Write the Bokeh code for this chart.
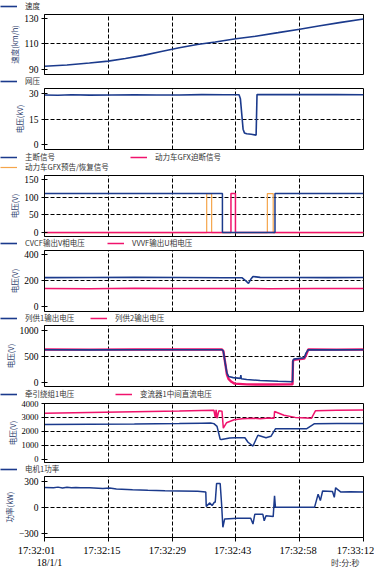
from bokeh.plotting import figure
from bokeh.layouts import column
from bokeh.models import Range1d, FixedTicker, Grid, Legend, LegendItem, ColumnDataSource
from bokeh.core.properties import value
from bokeh.embed import file_html
from bokeh.resources import INLINE

NAN = float("nan")

# ---------------- data ----------------
time_ticks = [0, 14.2, 28.4, 42.6, 56.8, 71]
time_labels = ["17:32:01", "17:32:15", "17:32:29", "17:32:43", "17:32:58", "17:33:12"]
date_label = "18/1/1"
unit_label = "时:分:秒"

speed_t = [0, 5, 10, 14.2, 18, 22, 26, 30, 34, 38, 42.6, 47, 52, 56.8, 61, 66, 71]
speed_v = [92.5, 93.5, 95, 96.5, 98.5, 101, 104, 107, 109.5, 111.5, 114, 116, 118.8, 121.5, 124, 126.8, 129.5]

net_t = [0, 3, 6, 10, 15, 20, 25, 30, 35, 40, 43.3, 43.6, 43.9, 44.2, 44.5, 45.0, 46.0, 47.1, 47.3, 50, 55, 60, 65, 71]
net_v = [29.2, 29.0, 29.3, 29.1, 29.2, 29.3, 29.2, 29.2, 29.4, 29.3, 29.3, 27, 18, 9, 6.8, 6.3, 6.0, 5.5, 29.4, 29.4, 29.4, 29.4, 29.4, 29.3]

main_t = [0, 39.6, 39.6, 51.3, 51.3, 71]
main_v = [110, 110, 0, 0, 110, 110]
gfx_cut_t = [0, 41.5, 41.5, 42.5, 42.5, 71]
gfx_cut_v = [0, 0, 110, 110, 0, 0]
gfx_warn_t = [0, 36.1, 36.1, 37.2, 37.2, 49.6, 49.6, 50.9, 50.9, 71]
gfx_warn_v = [0, 0, 110, 110, 0, 0, 110, 110, 0, 0]

cvcf_t = [0, 10, 20, 30, 40, 44.0, 44.6, 45.4, 46.0, 46.4, 48, 55, 63, 71]
cvcf_v = [223, 224, 226, 224, 222, 222, 205, 180, 215, 232, 225, 224, 223, 224]
vvvf_t = [0, 10, 20, 30, 40, 45, 50, 60, 71]
vvvf_v = [141, 139, 142, 140, 141, 140, 139, 140, 141]

sup1_t = [0, 10, 20, 30, 39.5, 39.8, 40.2, 40.6, 41.0, 42, 43.6, 43.7, 43.8, 45, 48, 52, 55.2, 55.3, 55.5, 57.8, 58.2, 58.7, 65, 71]
sup1_v = [625, 622, 626, 624, 625, 600, 380, 180, 110, 90, 75, 140, 70, 55, 35, 20, 10, 420, 445, 470, 560, 625, 622, 625]
sup2_t = [0, 10, 20, 30, 39.5, 39.8, 40.2, 40.6, 41.0, 41.6, 42.3, 45, 50, 55.2, 55.3, 55.5, 57.8, 58.3, 58.7, 65, 71]
sup2_v = [630, 628, 632, 629, 630, 600, 380, 150, 60, 10, -25, -40, -42, -40, 400, 430, 455, 540, 630, 628, 630]

tw_t = [0, 10, 20, 30, 35, 37.0, 37.7, 38.4, 39.1, 39.4, 41.2, 42.4, 44.6, 45.3, 46.4, 47.5, 49.3, 50.4, 51.4, 58.3, 60.1, 65, 71]
tw_v = [2480, 2500, 2520, 2555, 2580, 2590, 2550, 2355, 1425, 1400, 1520, 1535, 1535, 1210, 935, 1710, 1535, 1640, 2180, 2180, 2550, 2560, 2560]
dc_t = [0, 10, 20, 30, 35, 37.7, 38.0, 38.2, 38.4, 38.8, 39.5, 39.8, 40.5, 42.2, 44, 46.4, 48, 50, 51.1, 51.2, 53.3, 55.8, 59.4, 60.3, 65, 71]
dc_v = [3300, 3350, 3400, 3460, 3500, 3520, 3000, 3550, 2935, 3470, 3450, 2225, 2610, 2825, 2900, 2935, 2900, 2950, 2935, 3425, 3150, 3000, 2935, 3470, 3520, 3535]

pw_t = [0, 2, 3, 4, 5, 6, 7, 8, 10, 13, 14.5, 16, 19.6, 23, 26.8, 30, 34.1, 35.9, 36.0, 36.8, 37.3, 37.8, 38.0, 38.3, 39.1, 39.4, 39.7, 40.1, 43, 45.9, 46.4, 46.8, 48.6, 48.9, 49.3, 50.9, 51.2, 51.4, 60.1, 60.9, 61.4, 61.9, 64.1, 64.5, 64.8, 65.2, 65.9, 68, 71]
pw_v = [232, 230, 236, 226, 234, 228, 233, 230, 229, 221, 225, 215, 206, 200, 195, 192, 187, 180, 11, 52, 22, 60, 60, 277, 277, 50, -232, -135, -127, -127, -195, -82, -82, -157, -97, -108, 135, 0, 0, 154, 79, 191, 185, 116, 229, 210, 180, 182, 180]

# ---------------- style ----------------
NAVY = "#1b3a8c"
PINK = "#f0136c"
ORANGE = "#f5a54a"
W = 374
LEFT = 36
FRAME_W = 327
RIGHT = W - LEFT - FRAME_W
CJK = "Noto Sans CJK SC"
SERIF = "Liberation Serif"
T0, T1 = 0, 71
PX_PER_S = FRAME_W / (T1 - T0)


def strip(h, xr=(0, W)):
    s = figure(width=W, height=h, output_backend="svg", toolbar_location=None, tools="",
               x_range=Range1d(*xr), y_range=Range1d(0, h),
               x_axis_location=None, y_axis_location=None,
               min_border=0, min_border_left=0, min_border_right=0,
               min_border_top=0, min_border_bottom=0)
    s.frame_align = False
    s.grid.visible = False
    s.outline_line_color = None
    s.background_fill_color = "white"
    s.border_fill_color = "white"
    return s


def legend(s, color, text, x, y, width=1.6):
    # key-only renderer (no visible data) that supplies the legend swatch
    r = s.line(x=[NAN, NAN], y=[NAN, NAN], line_color=color, line_width=width)
    lg = Legend(items=[LegendItem(label=text, renderers=[r])], location=(x, y),
                orientation="horizontal", border_line_alpha=0, background_fill_alpha=0,
                padding=0, margin=0, spacing=0, glyph_width=17, glyph_height=10,
                label_height=10, label_standoff=8,
                label_text_font=CJK, label_text_font_size="7.5px", label_text_color="#333333")
    s.add_layout(lg)


def panel(ylabel, yr, yticks, ygrid, frame_h, top=2, bottom=2, bottom_axis=False, tick_size="9.5px"):
    p = figure(width=W, height=top + frame_h + bottom, output_backend="svg",
               toolbar_location=None, tools="",
               x_range=Range1d(T0, T1), y_range=Range1d(*yr),
               x_axis_location="below" if bottom_axis else None,
               min_border_left=LEFT, min_border_right=RIGHT,
               min_border_top=top, min_border_bottom=bottom)
    p.grid.visible = False
    p.outline_line_color = "black"
    p.outline_line_alpha = 1
    p.outline_line_width = 1
    p.background_fill_color = "white"
    p.border_fill_color = "white"
    ya = p.yaxis[0]
    ya.ticker = FixedTicker(ticks=yticks)
    ya.major_label_text_font = SERIF
    ya.major_label_text_font_size = tick_size
    ya.major_label_text_color = "black"
    ya.axis_label = ylabel
    ya.axis_label_text_font = CJK
    ya.axis_label_text_font_size = "7.5px"
    ya.axis_label_text_font_style = "normal"
    ya.axis_label_text_color = "#2a3a6a"
    ya.axis_label_standoff = 1
    ya.major_label_standoff = 3
    ya.major_tick_in = 3
    ya.major_tick_out = 3
    ya.minor_tick_line_color = None
    ya.axis_line_color = "black"
    ya.major_tick_line_color = "black"
    p.add_layout(Grid(dimension=0, ticker=FixedTicker(ticks=time_ticks[1:-1]),
                      grid_line_color="black", grid_line_dash="4 2", grid_line_width=1))
    p.add_layout(Grid(dimension=1, ticker=FixedTicker(ticks=ygrid),
                      grid_line_color="black", grid_line_dash="4 2", grid_line_width=1))
    return p


parts = []

# Panel 1: speed
s1 = strip(12)
legend(s1, NAVY, "速度", 0, 1)
p1 = panel("速度(km/h)", (86, 133), [90, 110, 130], [110], 60)
p1.line(speed_t, speed_v, line_color=NAVY, line_width=1.6)
parts += [s1, p1]

# Panel 2: net voltage
s2 = strip(10)
legend(s2, NAVY, "网压", 0, 0)
p2 = panel("电压(kV)", (-3, 33), [0, 15, 30], [15], 61)
p2.line(net_t, net_v, line_color=NAVY, line_width=1.6)
parts += [s2, p2]

# Panel 3: signals
s3 = strip(22)
legend(s3, NAVY, "主断信号", 0, 11, 1.5)
legend(s3, PINK, "动力车GFX迫断信号", 130, 11, 1.5)
legend(s3, ORANGE, "动力车GFX预告/恢复信号", 0, 1, 1.2)
p3 = panel("电压(V)", (-11, 161), [0, 50, 100, 150], [50, 100], 61)
p3.line(gfx_warn_t, gfx_warn_v, line_color=ORANGE, line_width=1.2)
p3.line(gfx_cut_t, gfx_cut_v, line_color=PINK, line_width=1.5)
p3.line(main_t, main_v, line_color=NAVY, line_width=1.5)
parts += [s3, p3]

# Panel 4: CVCF / VVVF
s4 = strip(10)
legend(s4, NAVY, "CVCF输出V相电压", 0, 0)
legend(s4, PINK, "VVVF输出U相电压", 107, 0, 1.5)
p4 = panel("电压(V)", (-35, 430), [0, 200, 400], [200], 61)
p4.line(vvvf_t, vvvf_v, line_color=PINK, line_width=1.5)
p4.line(cvcf_t, cvcf_v, line_color=NAVY, line_width=1.6)
parts += [s4, p4]

# Panel 5: train supply
s5 = strip(10)
legend(s5, NAVY, "列供1输出电压", 0, 0)
legend(s5, PINK, "列供2输出电压", 90, 0, 1.5)
p5 = panel("电压(V)", (-80, 1090), [0, 500, 1000], [500], 61)
p5.line(sup2_t, sup2_v, line_color=PINK, line_width=2.4)
p5.line(sup1_t, sup1_v, line_color=NAVY, line_width=1.6)
parts += [s5, p5]

# Panel 6: traction winding / DC link
s6 = strip(11)
legend(s6, NAVY, "牵引绕组1电压", 0, 0)
legend(s6, PINK, "变流器1中间直流电压", 115, 0, 1.5)
p6 = panel("电压(V)", (-250, 4000), [0, 1000, 2000, 3000, 4000], [1000, 2000, 3000], 59,
           top=4, tick_size="8.5px")
p6.line(dc_t, dc_v, line_color=PINK, line_width=1.5)
p6.line(tw_t, tw_v, line_color=NAVY, line_width=1.5)
parts += [s6, p6]

# Panel 7: power
s7 = strip(10)
legend(s7, NAVY, "电机1功率", 0, 0)
p7 = panel("功率(kW)", (-352, 360), [-300, 0, 300], [0], 61, bottom=6, bottom_axis=True)
p7.line(pw_t, pw_v, line_color=NAVY, line_width=1.5)
xa = p7.xaxis[0]
xa.ticker = FixedTicker(ticks=time_ticks)
xa.major_label_text_color = None
xa.major_label_text_font_size = "1px"
xa.major_label_standoff = 0
xa.major_tick_in = 0
xa.major_tick_out = 4
xa.minor_tick_line_color = None
xa.axis_line_color = "black"
parts += [s7, p7]

# Bottom strip: time labels on the same time scale as the panels
s8 = strip(24, xr=(T0 - LEFT / PX_PER_S, T1 + RIGHT / PX_PER_S))
lab_src = ColumnDataSource(dict(x=time_ticks, text=time_labels, dx=[0, 0, 0, 0, 0, -8]))
s8.text(x="x", y=17, text="text", x_offset="dx", source=lab_src,
        text_font=value(SERIF), text_font_size="10.5px", text_color="black",
        text_align="center", text_baseline="middle")
s8.text(x=[(57 - 8 - LEFT) / PX_PER_S], y=[5], text=[date_label],
        text_font=value(SERIF), text_font_size="10px", text_color="black",
        text_align="center", text_baseline="middle")
s8.text(x=[(367 - 8 - LEFT) / PX_PER_S], y=[5], text=[unit_label],
        text_font=value(CJK), text_font_size="8px", text_color="#333333",
        text_align="right", text_baseline="middle")
parts.append(s8)

layout = column(*parts, spacing=0)
open("out.html", "w").write(file_html(layout, INLINE))
